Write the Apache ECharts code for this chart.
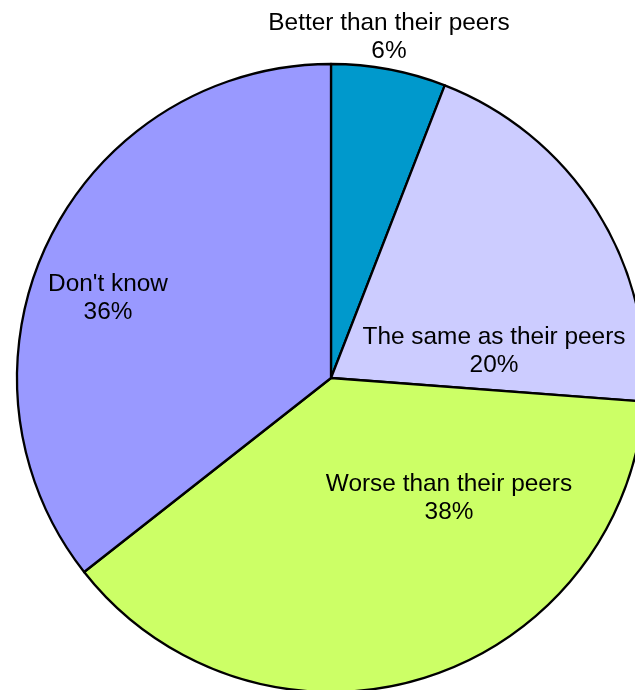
<!DOCTYPE html>
<html>
<head>
<meta charset="utf-8">
<script src="https://cdn.jsdelivr.net/npm/echarts@6/dist/echarts.min.js"></script>
<style>
html,body{margin:0;padding:0;background:#fff;}
#chart{width:635px;height:690px;}
</style>
</head>
<body>
<div id="chart"></div>
<script>
// Categories (clockwise from 12 o'clock)
var categories = ['Better than their peers', 'The same as their peers', 'Worse than their peers', "Don't know"];
var values = [5.9, 20.3, 38.2, 35.6];
// Percent labels as printed in the picture
var pctLabels = ['6%', '20%', '38%', '36%'];
var colors = ['#0099CC', '#CCCCFF', '#CCFF66', '#9999FF'];
// Label anchor points (layout, px)
var labelPos = [[389, 37], [494, 351], [449, 498], [108, 298]];

var chart = echarts.init(document.getElementById('chart'), null, {renderer: 'canvas'});
var data = categories.map(function (c, i) {
  return {name: c, value: values[i], itemStyle: {color: colors[i]}};
});
chart.setOption({
  animation: false,
  series: [{
    type: 'pie',
    center: [331, 378],
    radius: 314,
    startAngle: 90,
    clockwise: true,
    avoidLabelOverlap: false,
    data: data,
    itemStyle: {borderColor: '#000', borderWidth: 2.3},
    emphasis: {disabled: true},
    label: {
      show: true,
      position: 'inside',
      formatter: function (p) { return p.name + '\n' + pctLabels[p.dataIndex]; },
      fontFamily: 'Liberation Sans, Arial, sans-serif',
      fontSize: 24.4,
      lineHeight: 28,
      color: '#000',
      align: 'center'
    },
    labelLine: {show: false},
    labelLayout: function (p) {
      var pos = labelPos[p.dataIndex];
      return {x: pos[0], y: pos[1], align: 'center', verticalAlign: 'middle'};
    }
  }]
});
</script>
</body>
</html>
